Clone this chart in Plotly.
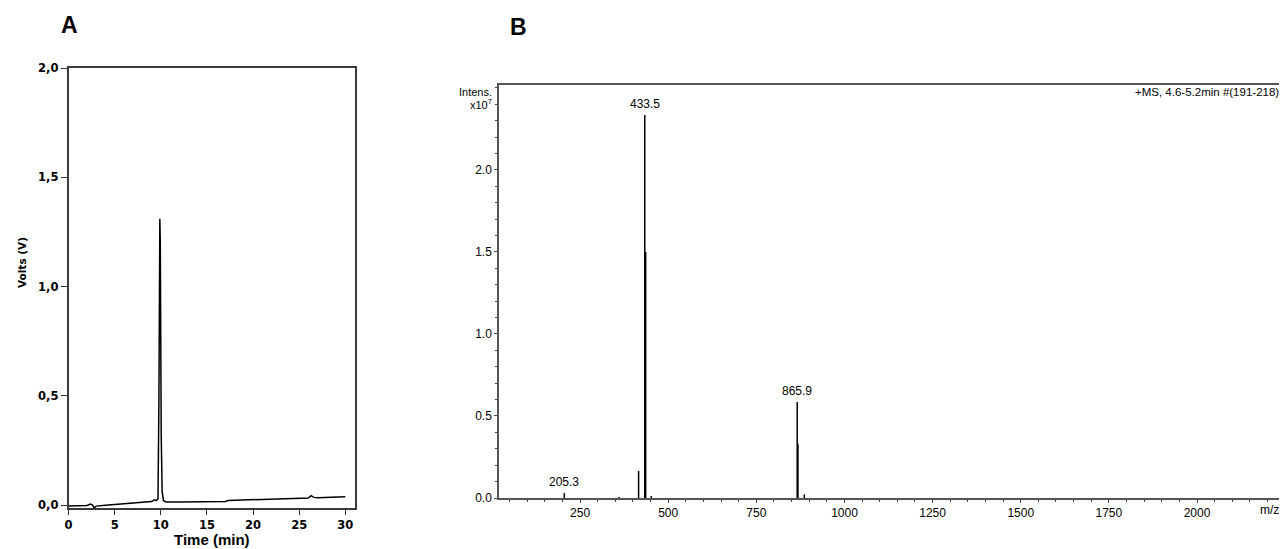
import plotly.graph_objects as go

# ---------- Panel A: chromatogram ----------
time_min = [0, 1, 2, 2.4, 2.6, 2.8, 3, 4, 5, 6, 7, 8, 9, 9.3, 9.5, 9.7, 9.8, 9.9, 9.95,
            10.05, 10.15, 10.3, 10.6, 12, 15, 17, 17.3, 20, 22, 24, 24.3, 26, 26.3, 26.6,
            27, 28, 29, 30]
volts = [-0.004, -0.004, -0.002, 0.004, 0.0, -0.014, -0.005, -0.001, 0.002, 0.005, 0.008,
         0.011, 0.016, 0.024, 0.02, 0.028, 0.47, 1.31, 1.2, 0.32, 0.06, 0.02, 0.014, 0.014,
         0.014, 0.016, 0.021, 0.025, 0.026, 0.028, 0.031, 0.032, 0.043, 0.035, 0.033, 0.034,
         0.037, 0.038]
a_yticks = [0.0, 0.5, 1.0, 1.5, 2.0]
a_yticktext = ["0,0", "0,5", "1,0", "1,5", "2,0"]
a_xticks = [0, 5, 10, 15, 20, 25, 30]

# ---------- Panel B: mass spectrum ----------
mz = [205.3, 360, 416, 433.5, 436, 452, 865.9, 868, 886]
intensity = [0.03, 0.006, 0.165, 2.335, 1.5, 0.012, 0.585, 0.33, 0.022]
labelled_mz = [205.3, 433.5, 865.9]
labelled_int = [0.03, 2.335, 0.585]
labelled_txt = ["205.3", "433.5", "865.9"]
b_yticks = [0.0, 0.5, 1.0, 1.5, 2.0]
b_xticks = [250, 500, 750, 1000, 1250, 1500, 1750, 2000]

W, H = 1287, 549
OFF = 8  # page body margin offset of the plot div


def px(x):
    return (x - OFF) / W


def py(y):
    return 1 - (y - OFF) / H


fig = go.Figure()

fig.add_trace(go.Scatter(x=time_min, y=volts, mode="lines",
                         line=dict(color="black", width=1.5),
                         xaxis="x", yaxis="y", showlegend=False, hoverinfo="skip"))

sx, sy = [], []
for m, h in zip(mz, intensity):
    sx += [m, m, None]
    sy += [0, h, None]
fig.add_trace(go.Scatter(x=sx, y=sy, mode="lines",
                         line=dict(color="black", width=1.5),
                         xaxis="x2", yaxis="y2", showlegend=False, hoverinfo="skip"))

fontA = dict(family="DejaVu Sans", size=11.5, color="black", weight="bold")
fontB = dict(family="Liberation Sans", size=12, color="black")

fig.update_layout(
    width=W, height=H,
    margin=dict(l=0, r=0, t=0, b=0, autoexpand=False),
    paper_bgcolor="white", plot_bgcolor="white",
    xaxis=dict(domain=[px(68.5), px(354.5)], range=[0, 31], anchor="y",
               tickvals=a_xticks, ticks="outside", ticklen=5, tickwidth=1.2,
               tickcolor="#333", showline=True, mirror=True, linecolor="#3a3a3a",
               linewidth=1.5, showgrid=False, zeroline=False, tickfont=fontA),
    yaxis=dict(domain=[py(508.3), py(68)], range=[-0.015, 2.0], anchor="x",
               tickvals=a_yticks, ticktext=a_yticktext, ticks="outside", ticklen=6,
               tickwidth=1.2, tickcolor="#333", showline=True, mirror=True,
               linecolor="#3a3a3a", linewidth=1.5, showgrid=False, zeroline=False,
               tickfont=fontA),
    xaxis2=dict(domain=[px(499), 1.0], range=[20, 2278], anchor="y2",
                tickvals=b_xticks, ticks="outside", ticklen=3, tickwidth=1,
                tickcolor="#444", showline=True, mirror=True, linecolor="#555",
                linewidth=1.5, showgrid=False, zeroline=False, tickfont=fontB,
                minor=dict(dtick=50, tick0=0, ticks="outside", ticklen=2,
                           tickcolor="#444", showgrid=False)),
    yaxis2=dict(domain=[py(498), py(85)], range=[0, 2.518], anchor="x2",
                tickvals=b_yticks, tickformat=".1f", ticks="outside", ticklen=3,
                tickwidth=1, tickcolor="#444", showline=True, linecolor="#555",
                linewidth=1.5, showgrid=False, zeroline=False, tickfont=fontB,
                minor=dict(dtick=0.1, tick0=0, ticks="outside", ticklen=2,
                           tickcolor="#444", showgrid=False)),
)


def note(text, x, y, size, bold=False, family="Liberation Sans", xanchor="center",
         angle=0):
    f = dict(family=family, size=size, color="black")
    if bold:
        f["weight"] = "bold"
    return dict(text=text, x=px(x), y=py(y), xref="paper", yref="paper",
                xanchor=xanchor, yanchor="middle", showarrow=False, textangle=angle,
                font=f)


ann = [
    note("A", 69, 25, 23, bold=True),
    note("B", 518, 27, 23, bold=True),
    note("Time (min)", 212, 539, 15, bold=True),
    note("Volts (V)", 22, 263, 10.5, bold=True, family="DejaVu Sans", angle=-90),
    note("Intens.", 494, 92, 11, xanchor="right"),
    note("x10<sup>7</sup>", 494, 104, 11, xanchor="right"),
    note("+MS, 4.6-5.2min #(191-218)", 1281, 92, 11.5, xanchor="right"),
    note("m/z", 1281, 510, 12, xanchor="right"),
]
for m, h, t in zip(labelled_mz, labelled_int, labelled_txt):
    ann.append(dict(text=t, x=m, y=h, xref="x2", yref="y2", xanchor="center",
                    yanchor="bottom", showarrow=False, yshift=2,
                    font=dict(family="Liberation Sans", size=12, color="black")))
fig.update_layout(annotations=ann)

fig.write_html("out.html")
